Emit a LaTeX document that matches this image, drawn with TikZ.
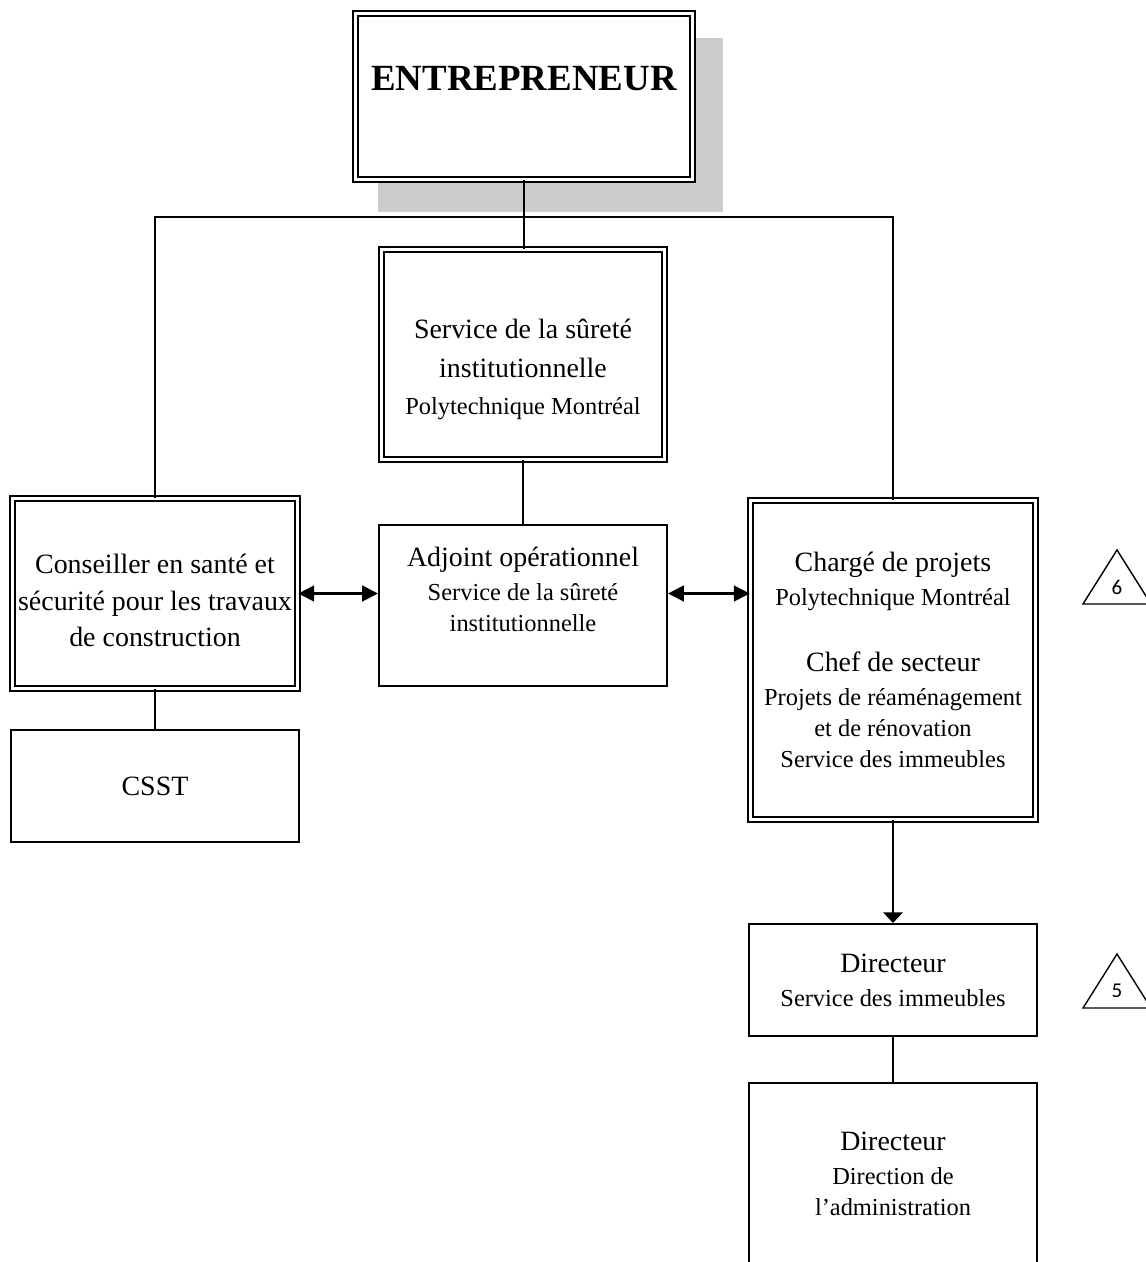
\documentclass[tikz,border=0pt]{standalone}
\usepackage{fontspec}
\setmainfont{Liberation Serif}
\newfontfamily\markfont{Carlito}
\usetikzlibrary{arrows.meta}
\definecolor{shadowgray}{RGB}{204,204,204}
\begin{document}
\begin{tikzpicture}[x=0.02cm,y=-0.02cm]
    % Styles for the boxes and connectors
    \tikzset{
        box/.style={
            draw,
            rectangle,
            line width=1.2pt,
            fill=white,
            inner xsep=2pt,
            align=center,
            font=\fontsize{15.9}{21}\selectfont
        },
        dbox/.style={
            box,
            line width=0.95pt,
            double,
            double distance=2.2pt
        },
        link/.style={
            line width=1.2pt
        },
        biarrow/.style={
            link,
            {Triangle[length=9pt,width=9pt]}-{Triangle[length=9pt,width=9pt]}
        },
        downarrow/.style={
            link,
            -{Triangle[length=6pt,width=11pt]}
        }
    }
    % Smaller second lines
    \def\smtxt#1{{\fontsize{13.9}{17.6}\selectfont #1}}
    \useasboundingbox (0,0) rectangle (1146,1262);
    % Shadow behind the top box
    \fill[shadowgray] (378,38) rectangle (723,212);
    % Boxes
    \node[dbox, minimum width=337*0.02cm, minimum height=166*0.02cm,
        font=\fontsize{21}{25}\selectfont\bfseries,
        text height=0.6cm, text depth=0.86cm] (entre) at (524,96.5) {ENTREPRENEUR};
    \node[dbox, minimum width=283*0.02cm, minimum height=210*0.02cm] (surete) at (523,354.5)
        {\rule{0pt}{28pt}Service de la sûreté\\[1.7pt]institutionnelle\\\smtxt{Polytechnique Montréal}};
    \node[box, minimum width=288*0.02cm, minimum height=161*0.02cm] (adjoint) at (523,605.5)
        {Adjoint opérationnel\\[-1.7pt]\smtxt{Service de la sûreté}\\[-3.4pt]\smtxt{institutionnelle}\rule[-18pt]{0pt}{18pt}};
    \node[dbox, minimum width=285*0.02cm, minimum height=190*0.02cm] (conseil) at (155,593.5)
        {\rule{0pt}{19pt}Conseiller en santé et\\sécurité pour les travaux\\de construction};
    \node[box, minimum width=288*0.02cm, minimum height=112*0.02cm] (csst) at (155,786) {CSST};
    \node[dbox, minimum width=285*0.02cm, minimum height=319*0.02cm] (charge) at (893,660)
        {Chargé de projets\\[-1.7pt]\smtxt{Polytechnique Montréal}\\[16.4pt]
         Chef de secteur\\[-1.7pt]\smtxt{Projets de réaménagement}\\[-3.4pt]
         \smtxt{et de rénovation}\\[-3.4pt]\smtxt{Service des immeubles}};
    \node[box, minimum width=288*0.02cm, minimum height=112*0.02cm] (dirsi) at (893,980)
        {Directeur\\[-1.7pt]\smtxt{Service des immeubles}};
    \node[box, minimum width=288*0.02cm, minimum height=182*0.02cm] (dirad) at (893,1174)
        {Directeur\\[-1.7pt]\smtxt{Direction de}\\[-3.4pt]\smtxt{l’administration}};
    % Connectors
    \coordinate (bus) at (524,217);
    \draw[link] (entre.south) -- (entre.south |- surete.north);
    \draw[link] (conseil.north) |- (bus) -| (charge.north);
    \draw[link] (surete.south) -- (adjoint.north);
    \draw[link] (conseil.south) -- (csst.north);
    \draw[biarrow] (conseil.east) -- (conseil.east -| adjoint.west);
    \draw[biarrow] (conseil.east -| adjoint.east) -- (conseil.east -| charge.west);
    \draw[downarrow] (charge.south) -- (dirsi.north);
    \draw[link] (dirsi.south) -- (dirad.north);
    % Triangle marks
    \foreach \n/\ty in {6/604, 5/1008} {
        \draw[line width=0.8pt] (1083,\ty) -- (1117,\ty-54) -- (1151,\ty) -- cycle;
        \node[font=\markfont\fontsize{12}{14}\selectfont] (mark\n) at (1117,\ty-17) {\n};
    }
\end{tikzpicture}
\end{document}
